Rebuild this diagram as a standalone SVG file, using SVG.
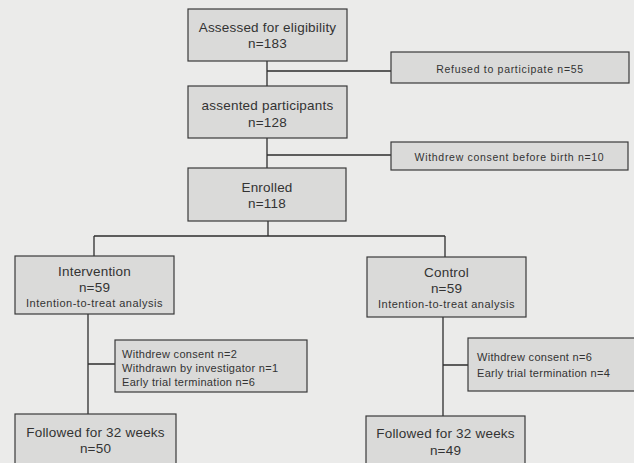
<svg xmlns="http://www.w3.org/2000/svg" width="634" height="463" viewBox="0 0 634 463">
<style>
.bg{fill:#ebebea}
.box{fill:#dadad9;stroke:#3a3a3a;stroke-width:1.2}
.ln{fill:none;stroke:#2e2e2e;stroke-width:1.3}
text{font-family:"Liberation Sans",Arial,sans-serif;fill:#333}
.m{font-size:13.5px;text-anchor:middle;letter-spacing:0.2px}
.s{font-size:10.5px;text-anchor:middle;letter-spacing:0.7px}
.t{font-size:11px;text-anchor:middle;letter-spacing:0.5px}
.l{font-size:11px;text-anchor:start;letter-spacing:0.3px}
</style>
<rect class="bg" x="0" y="0" width="634" height="463"/>
<g id="connectors">
<path class="ln" d="M267 61V86M267 71H391"/>
<path class="ln" d="M267 138V168M267 155H391"/>
<path class="ln" d="M268 221V236M94 236H445M94 236V256M445 236V257"/>
<path class="ln" d="M88 314V414M88 364H115"/>
<path class="ln" d="M443 317V416M443 365H468"/>
</g>
<g id="assessed">
<rect class="box" x="188" y="9" width="159" height="52"/>
<text class="m" x="267.5" y="31.5">Assessed for eligibility</text>
<text class="m" x="267.5" y="48">n=183</text>
</g>
<g id="refused">
<rect class="box" x="391" y="52" width="238" height="31"/>
<text class="s" x="510" y="72.5">Refused to participate n=55</text>
</g>
<g id="assented">
<rect class="box" x="188" y="86" width="159" height="52"/>
<text class="m" x="267.5" y="109.5">assented participants</text>
<text class="m" x="267.5" y="126.5">n=128</text>
</g>
<g id="withdrew-birth">
<rect class="box" x="391" y="142" width="237" height="28"/>
<text class="s" x="509.5" y="160.5">Withdrew consent before birth n=10</text>
</g>
<g id="enrolled">
<rect class="box" x="188" y="168" width="158" height="53"/>
<text class="m" x="267" y="191.5">Enrolled</text>
<text class="m" x="267" y="208">n=118</text>
</g>
<g id="intervention">
<rect class="box" x="15" y="256" width="159" height="58"/>
<text class="m" x="94.5" y="276">Intervention</text>
<text class="m" x="94.5" y="292">n=59</text>
<text class="t" x="94.5" y="307">Intention-to-treat analysis</text>
</g>
<g id="control">
<rect class="box" x="367" y="257" width="159" height="60"/>
<text class="m" x="446.5" y="277">Control</text>
<text class="m" x="446.5" y="293">n=59</text>
<text class="t" x="446.5" y="308">Intention-to-treat analysis</text>
</g>
<g id="withdraw-left">
<rect class="box" x="115" y="340" width="192" height="52"/>
<text class="l" x="122" y="358">Withdrew consent n=2</text>
<text class="l" x="122" y="372">Withdrawn by investigator n=1</text>
<text class="l" x="122" y="386">Early trial termination n=6</text>
</g>
<g id="withdraw-right">
<rect class="box" x="468" y="338" width="170" height="53"/>
<text class="l" x="477" y="361">Withdrew consent n=6</text>
<text class="l" x="477" y="377">Early trial termination n=4</text>
</g>
<g id="followed-left">
<rect class="box" x="15" y="414" width="161" height="56"/>
<text class="m" x="95.5" y="437">Followed for 32 weeks</text>
<text class="m" x="95.5" y="453">n=50</text>
</g>
<g id="followed-right">
<rect class="box" x="366" y="416" width="159" height="56"/>
<text class="m" x="445.5" y="438">Followed for 32 weeks</text>
<text class="m" x="445.5" y="454.5">n=49</text>
</g>
</svg>
